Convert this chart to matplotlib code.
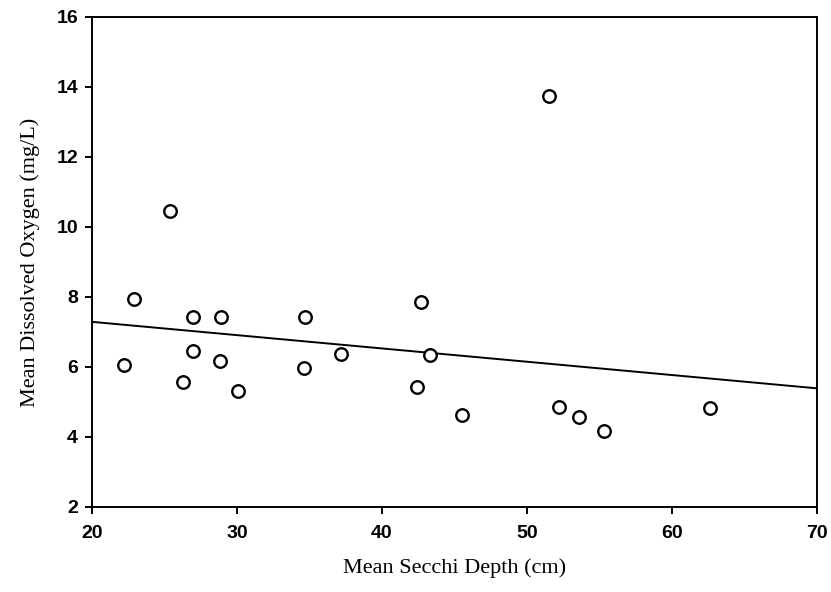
import numpy as np
from matplotlib import pyplot as plt

# Secchi depth (cm) and dissolved oxygen (mg/L) per station
secchi = [22.2, 22.9, 25.4, 27.0, 28.9, 34.7, 27.0, 28.8, 26.3, 30.1, 34.6,
          37.2, 42.7, 43.3, 42.4, 45.5, 51.5, 52.2, 53.6, 55.3, 62.6]
oxygen = [6.06, 7.95, 10.46, 7.44, 7.42, 7.44, 6.46, 6.17, 5.57, 5.31, 5.97,
          6.36, 7.86, 6.35, 5.43, 4.62, 13.74, 4.87, 4.56, 4.17, 4.82]

# Trend line as drawn (slope, intercept)
slope     = -0.038
intercept = 8.05
x_line    = [20, 70]

fig = plt.figure(figsize=(8.31, 5.92), dpi=100)
ax = fig.add_axes([0.1107, 0.1436, 0.8725, 0.8277])

ax.plot(secchi, oxygen, 'o', ls='none', ms=9, mfc='white', mec='black', mew=1.7, zorder=3)
y_line = [slope*x + intercept for x in x_line]
ax.plot(x_line, y_line, color='black', lw=1.4, zorder=2)

ax.set_xlim(20, 70)
ax.set_ylim(2, 16)
ax.set_xticks(range(20, 71, 10))
ax.set_yticks(range(2, 17, 2))

for s in ax.spines.values():
    s.set_linewidth(1.4)
ax.tick_params(direction='out', length=5, width=1.4, labelsize=14)
ax.tick_params(axis='x', pad=8)
ax.tick_params(axis='y', pad=5)
for lab in ax.get_xticklabels() + ax.get_yticklabels():
    lab.set_family('Liberation Sans')
    lab.set_fontweight('bold')

ax.set_xlabel("Mean Secchi Depth (cm)", family='Liberation Serif', fontsize=16, labelpad=12)
ax.set_ylabel("Mean Dissolved Oxygen (mg/L)", family='Liberation Serif', fontsize=16, labelpad=12)

plt.savefig("out.png", dpi=100)
